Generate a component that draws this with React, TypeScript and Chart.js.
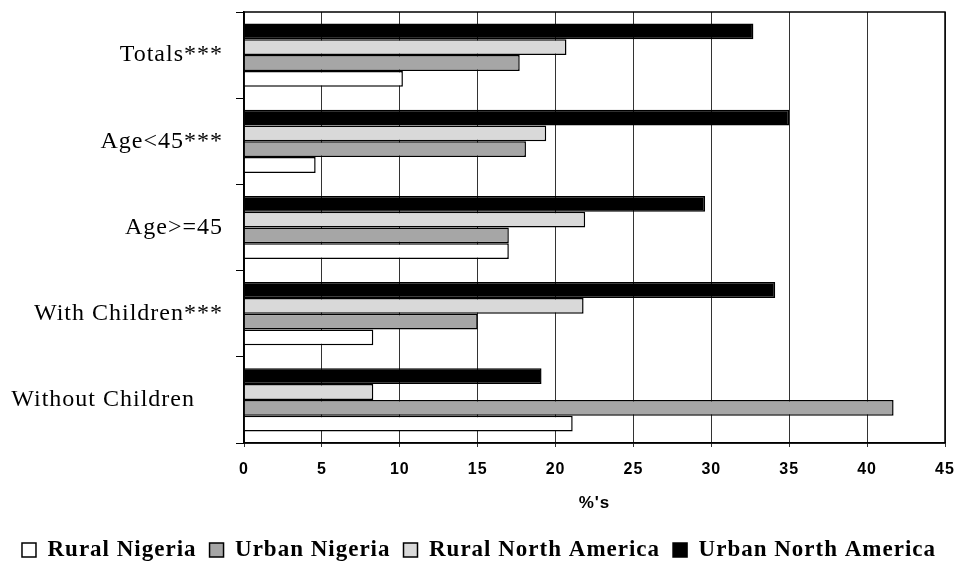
import { useEffect, useRef } from 'react';
import { Chart, registerables } from 'chart.js';

Chart.register(...registerables);

// Categories (trailing spaces reproduce the shorter right edge of the last label)
const categories = ['Totals***', 'Age<45***', 'Age>=45', 'With Children***', 'Without Children    '];

// Series values (%)
const urbanNorthAmerica = [32.7, 35.0, 29.6, 34.1, 19.1];
const ruralNorthAmerica = [20.7, 19.4, 21.9, 21.8, 8.3];
const urbanNigeria = [17.7, 18.1, 17.0, 15.0, 41.7];
const ruralNigeria = [10.2, 4.6, 17.0, 8.3, 21.1];

// X axis ticks
const xMin = 0;
const xMax = 45;
const xStep = 5;
const xTitle = "%'s";

const seriesNames = ['Urban North America', 'Rural North America', 'Urban Nigeria', 'Rural Nigeria'];
const seriesColors = ['#000000', '#d9d9d9', '#a6a6a6', '#ffffff'];

const letterSpacingPlugin = {
  id: 'letterSpacingPlugin',
  beforeLayout(chart: any) {
    (chart.ctx as any).letterSpacing = '1px';
  },
  beforeDraw(chart: any) {
    (chart.ctx as any).letterSpacing = '1px';
  },
};

const framePlugin = {
  id: 'framePlugin',
  afterDraw(chart: any) {
    const { ctx, chartArea: a } = chart;
    ctx.save();
    ctx.strokeStyle = '#000';
    ctx.lineWidth = 1.5;
    ctx.strokeRect(a.left, a.top, a.right - a.left, a.bottom - a.top);
    ctx.restore();
  },
};

export default function App() {
  const ref = useRef<HTMLCanvasElement>(null);

  useEffect(() => {
    const seriesData = [urbanNorthAmerica, ruralNorthAmerica, urbanNigeria, ruralNigeria];
    const chart = new Chart(ref.current as HTMLCanvasElement, {
      type: 'bar',
      data: {
        labels: categories,
        datasets: seriesNames.map((name, i) => ({
          label: name,
          data: seriesData[i],
          backgroundColor: seriesColors[i],
          borderColor: '#000000',
          borderWidth: 1.5,
          categoryPercentage: 0.733,
          barPercentage: 1,
        })),
      },
      options: {
        indexAxis: 'y',
        responsive: false,
        animation: false,
        devicePixelRatio: 1,
        layout: { padding: { top: 12, right: 0, bottom: 0, left: 0 } },
        scales: {
          x: {
            type: 'linear',
            min: xMin,
            max: xMax,
            ticks: {
              stepSize: xStep,
              color: '#000',
              padding: 13,
              font: { family: '"Liberation Sans", Arial, sans-serif', size: 16, weight: 'bold' },
            },
            grid: { color: '#333', lineWidth: 1, tickLength: 4, drawTicks: true },
            border: { color: '#000', width: 1.5 },
            title: {
              display: true,
              text: xTitle,
              color: '#000',
              padding: { top: 4, bottom: 12 },
              font: { family: '"Liberation Sans", Arial, sans-serif', size: 17, weight: 'bold' },
            },
            afterFit(s: any) {
              s.height = 82.5;
              s.paddingLeft = 0;
              s.paddingRight = 13;
            },
          },
          y: {
            type: 'category',
            ticks: {
              color: '#000',
              padding: 13,
              font: { family: '"Liberation Serif", "Times New Roman", serif', size: 24 },
            },
            grid: {
              drawOnChartArea: false,
              drawTicks: true,
              tickLength: 8,
              color: '#000',
              lineWidth: 1,
              offset: true,
            },
            border: { color: '#000', width: 1.5 },
            afterFit(s: any) {
              s.width = 244;
              s.paddingTop = 0;
              s.paddingBottom = 0;
            },
          },
        },
        plugins: {
          legend: {
            position: 'bottom',
            reverse: true,
            maxHeight: 39.5,
            labels: {
              boxWidth: 14,
              boxHeight: 14,
              padding: 13,
              color: '#000',
              font: { family: '"Liberation Serif", "Times New Roman", serif', size: 23, weight: 'bold' },
            },
          },
          tooltip: { enabled: false },
        },
      } as any,
      plugins: [letterSpacingPlugin, framePlugin],
    });
    return () => chart.destroy();
  }, []);

  return (
    <div style={{ position: 'absolute', left: 0, top: 0, width: 958, height: 565, background: '#fff' }}>
      <canvas ref={ref} width={958} height={565} style={{ display: 'block', width: 958, height: 565 }} />
    </div>
  );
}
